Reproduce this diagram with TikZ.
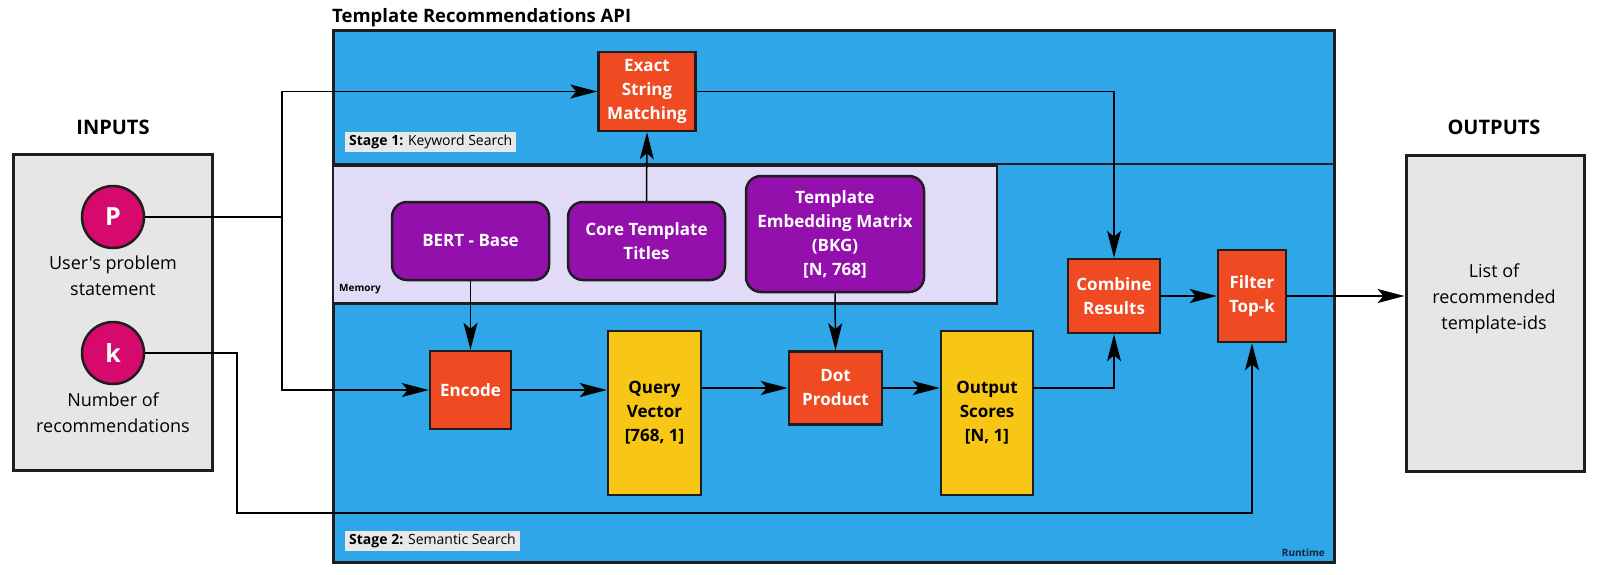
\documentclass[tikz,border=0pt]{standalone}
\usepackage{fontspec}
\setmainfont[Ligatures=TeXOff]{Open Sans}
\usepackage{tikz}
\usetikzlibrary{arrows.meta,positioning,calc}

\definecolor{apiblue}{RGB}{46,166,232}
\definecolor{procred}{RGB}{240,74,35}
\definecolor{mempurple}{RGB}{148,16,172}
\definecolor{vecyellow}{RGB}{248,198,20}
\definecolor{inmagenta}{RGB}{214,10,108}
\definecolor{memlav}{RGB}{226,219,247}
\definecolor{iogray}{RGB}{230,230,230}
\definecolor{labelgray}{RGB}{232,232,232}
\definecolor{edgedark}{RGB}{30,30,30}
\definecolor{rtnavy}{RGB}{20,35,60}

\tikzset{
  procbox/.style={draw=edgedark, line width=2.5pt, fill=procred, text=white, align=center,
    inner sep=2pt, font=\bfseries\fontsize{17}{24}\selectfont},
  vecbox/.style={procbox, fill=vecyellow, text=black},
  storebox/.style={procbox, fill=mempurple, rounded corners=15pt},
  inputdot/.style={circle, draw=edgedark, line width=2.5pt, fill=inmagenta, text=white,
    minimum size=62pt, inner sep=0pt, font=\bfseries\fontsize{25}{28}\selectfont},
  iobox/.style={draw=edgedark, line width=3pt, fill=iogray},
  iotext/.style={align=center, font=\fontsize{18}{26}\selectfont},
  headlabel/.style={font=\bfseries\fontsize{20}{24}\selectfont},
  stagelabel/.style={fill=labelgray, inner xsep=4pt, inner ysep=3pt, anchor=west,
    font=\fontsize{14}{16}\selectfont},
  arealabel/.style={font=\bfseries\fontsize{10}{12}\selectfont, inner sep=0pt},
  flow/.style={line width=1.5pt, -{Stealth[length=27pt,width=14pt,inset=6pt]}},
  wire/.style={line width=1.5pt}
}

\begin{document}
\begin{tikzpicture}[x=1pt, y=-1pt]
\useasboundingbox (0,0) rectangle (1600,574);

% API area
\node[draw=edgedark, line width=3pt, fill=apiblue, minimum width=1001pt, minimum height=532pt] (api) at (833.5,296) {};
\node[font=\bfseries\fontsize{18.5}{22}\selectfont, anchor=base west, inner sep=0pt] (apititle) at (332,22) {Template Recommendations API};
\coordinate (stagesplit) at (0,164);
\draw[line width=2.5pt, draw=edgedark] (api.west |- stagesplit) -- (api.east |- stagesplit);
\node[draw=edgedark, line width=2.5pt, fill=memlav, anchor=north west, minimum width=664pt, minimum height=138pt] (memory) at (api.west |- stagesplit) {};

\node[stagelabel] (stageone) at (345,142) {\textbf{Stage 1:} Keyword Search};
\node[stagelabel] (stagetwo) at (345,541) {\textbf{Stage 2:} Semantic Search};
\node[arealabel, anchor=base west] (memlabel) at (339,291) {Memory};
\node[arealabel, anchor=base east, text=rtnavy] (rtlabel) at (1325,556) {Runtime};

% Inputs
\node[headlabel] (intitle) at (113,127) {INPUTS};
\node[iobox, minimum width=199pt, minimum height=316pt] (inbox) at (112.5,312) {};
\node[inputdot] (P) at (113,217) {P};
\node[iotext] (Ptext) at (113,276) {User's problem\\statement};
\node[inputdot] (k) at (113,353) {k};
\node[iotext] (ktext) at (113,413) {Number of\\recommendations};

% Outputs
\node[headlabel] (outtitle) at (1494,127) {OUTPUTS};
\node[iobox, minimum width=178pt, minimum height=316pt] (outbox) at (1495,313) {};
\node[iotext] (outtext) at (1494,299) {List of\\recommended\\template-ids};

% Memory stores
\node[storebox, minimum width=157pt, minimum height=78pt] (bert) at (470.5,241) {BERT - Base};
\node[storebox, minimum width=157pt, minimum height=78pt] (titles) at (646.5,241) {Core Template\\Titles};
\node[storebox, minimum width=178pt, minimum height=116pt] (matrix) at (835,234) {Template\\Embedding Matrix\\(BKG)\\{[N, 768]}};

% Processing steps
\node[procbox, minimum width=97pt, minimum height=79pt] (exact) at (647,91.5) {Exact\\String\\Matching};
\node[procbox, minimum width=81pt, minimum height=78pt] (encode) at (470.5,390) {Encode};
\node[vecbox, minimum width=93pt, minimum height=164pt] (query) at (654.5,413) {Query\\Vector\\{[768, 1]}};
\node[procbox, minimum width=93pt, minimum height=73pt] (dot) at (835.5,388) {Dot\\Product};
\node[vecbox, minimum width=92pt, minimum height=164pt] (scores) at (987,413) {Output\\Scores\\{[N, 1]}};
\node[procbox, minimum width=92pt, minimum height=74pt] (combine) at (1114,296) {Combine\\Results};
\node[procbox, minimum width=68pt, minimum height=92pt] (filter) at (1252,296) {Filter\\Top-k};

% Connectors
\coordinate (split) at (282,217);
\coordinate (kturn) at (237,513);
\draw[wire] (P.east) -- (split);
\draw[flow] (split) |- (exact.west);
\draw[flow] (split) |- (encode.west);
\draw[flow] (titles.north) -- (exact.south);
\draw[flow] (bert.south) -- (encode.north);
\draw[flow] (matrix.south) -- (dot.north);
\draw[flow] (encode.east) -- (encode.east -| query.west);
\draw[flow] (query.east |- dot.west) -- (dot.west);
\draw[flow] (dot.east) -- (dot.east -| scores.west);
\draw[flow] (scores.east |- dot.east) -| (combine.south);
\draw[flow] (exact.east) -| (combine.north);
\draw[flow] (combine.east) -- (filter.west);
\draw[flow] (filter.east) -- (filter.east -| outbox.west);
\draw[flow] (k.east) -| (kturn) -| (filter.south);
\end{tikzpicture}
\end{document}
